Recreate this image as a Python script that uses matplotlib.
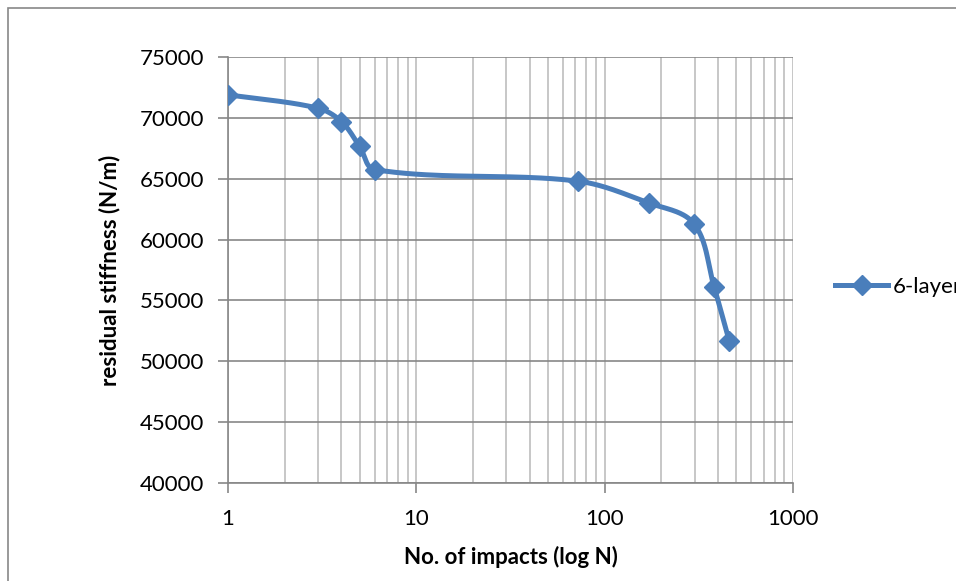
import numpy as np
import matplotlib.pyplot as plt
from matplotlib.ticker import LogLocator, NullFormatter, FixedLocator
from matplotlib.patches import Rectangle

# datos
impacts = [1, 3, 4, 5, 6, 72, 172, 298, 381, 458]
stiffness = [71900, 70800, 69700, 67650, 65750, 64800, 63000, 61300, 56100, 51700]
series_name = '6-layer'
x_label = 'No. of impacts (log N)'
y_label = 'residual stiffness (N/m)'
y_ticks = [40000, 45000, 50000, 55000, 60000, 65000, 70000, 75000]
x_ticks = [1, 10, 100, 1000]

blue = '#4A7EBB'
axis_gray = '#878787'
minor_gray = '#BEBEBE'

plt.rcParams['font.family'] = ['Lato', 'DejaVu Sans']

#tamaño del area de trazado en pixeles (para suavizar en espacio de pantalla)
W_PX, H_PX = 565.0, 426.0


def smooth_curve(xs, ys, n=40):
    # curva suavizada tipo Excel: bezier con tangente de los vecinos
    px = np.log10(np.asarray(xs, float)) / 3.0 * W_PX
    py = (np.asarray(ys, float) - 40000) / 35000.0 * H_PX
    pts = np.column_stack([px, py])
    k = len(pts)
    tang = np.zeros_like(pts)
    for i in range(k):
        a = pts[max(i - 1, 0)]
        b = pts[min(i + 1, k - 1)]
        d = b - a
        tang[i] = d / np.linalg.norm(d)
    t = np.linspace(0, 1, n)[:, None]
    out = []
    for i in range(k - 1):
        p0, p3 = pts[i], pts[i + 1]
        L = np.linalg.norm(p3 - p0) / 3.0
        p1 = p0 + tang[i] * L
        p2 = p3 - tang[i + 1] * L
        c = ((1 - t) ** 3) * p0 + 3 * ((1 - t) ** 2) * t * p1 + 3 * (1 - t) * t ** 2 * p2 + t ** 3 * p3
        out.append(c)
    out = np.vstack(out)
    return 10 ** (out[:, 0] / W_PX * 3.0), out[:, 1] / H_PX * 35000.0 + 40000


fig = plt.figure(figsize=(9.56, 5.81), dpi=100)
ax = fig.add_axes([228 / 956, 1 - 483 / 581, W_PX / 956, H_PX / 581])

# marco de la figura (cortado a la derecha y abajo)
fig.patches.append(Rectangle((8 / 956, -0.1), 1.2, (581 - 8) / 581 + 0.1,
                             transform=fig.transFigure, fill=False,
                             edgecolor=axis_gray, linewidth=1.2))

sx, sy = smooth_curve(impacts, stiffness)
ax.plot(sx, sy, color=blue, linewidth=3.6, solid_capstyle='round', zorder=3)
ax.plot(impacts, stiffness, linestyle='none', marker='D', markersize=10,
        color=blue, zorder=4)

ax.set_xscale('log')
ax.set_xlim(1, 1000)
ax.set_ylim(40000, 75000)
ax.xaxis.set_major_locator(FixedLocator(x_ticks))
ax.set_xticklabels([str(v) for v in x_ticks])
ax.xaxis.set_minor_locator(LogLocator(base=10, subs=np.arange(2, 10)))
ax.xaxis.set_minor_formatter(NullFormatter())
ax.set_yticks(y_ticks)
ax.set_yticklabels([str(v) for v in y_ticks])

ax.grid(True, which='major', axis='y', color=axis_gray, linewidth=1.2)
ax.grid(True, which='both', axis='x', color=minor_gray, linewidth=1.2)
ax.set_axisbelow(True)

for side in ['top', 'right']:
    ax.spines[side].set_visible(False)
for side in ['left', 'bottom']:
    ax.spines[side].set_color(axis_gray)
    ax.spines[side].set_linewidth(1.2)

ax.tick_params(axis='both', which='major', direction='out', length=7,
               width=1.2, color=axis_gray, labelsize=16, pad=10)
ax.tick_params(axis='x', which='minor', length=0)
ax.tick_params(axis='x', which='major', pad=12)

ax.set_xlabel(x_label, fontsize=16, fontweight='bold', labelpad=12)
ax.set_ylabel(y_label, fontsize=16, fontweight='bold', labelpad=14)

# leyenda a la derecha (cortada en el borde como en el original)
ax.plot([], [], color=blue, linewidth=3.6, marker='D', markersize=10, label=series_name)
fig.legend(loc='center left', bbox_to_anchor=(826 / 956, 1 - 287 / 581),
           frameon=False, fontsize=16, handlelength=2.4, handletextpad=0.2,
           borderaxespad=0)

fig.savefig('out.png', dpi=100)
